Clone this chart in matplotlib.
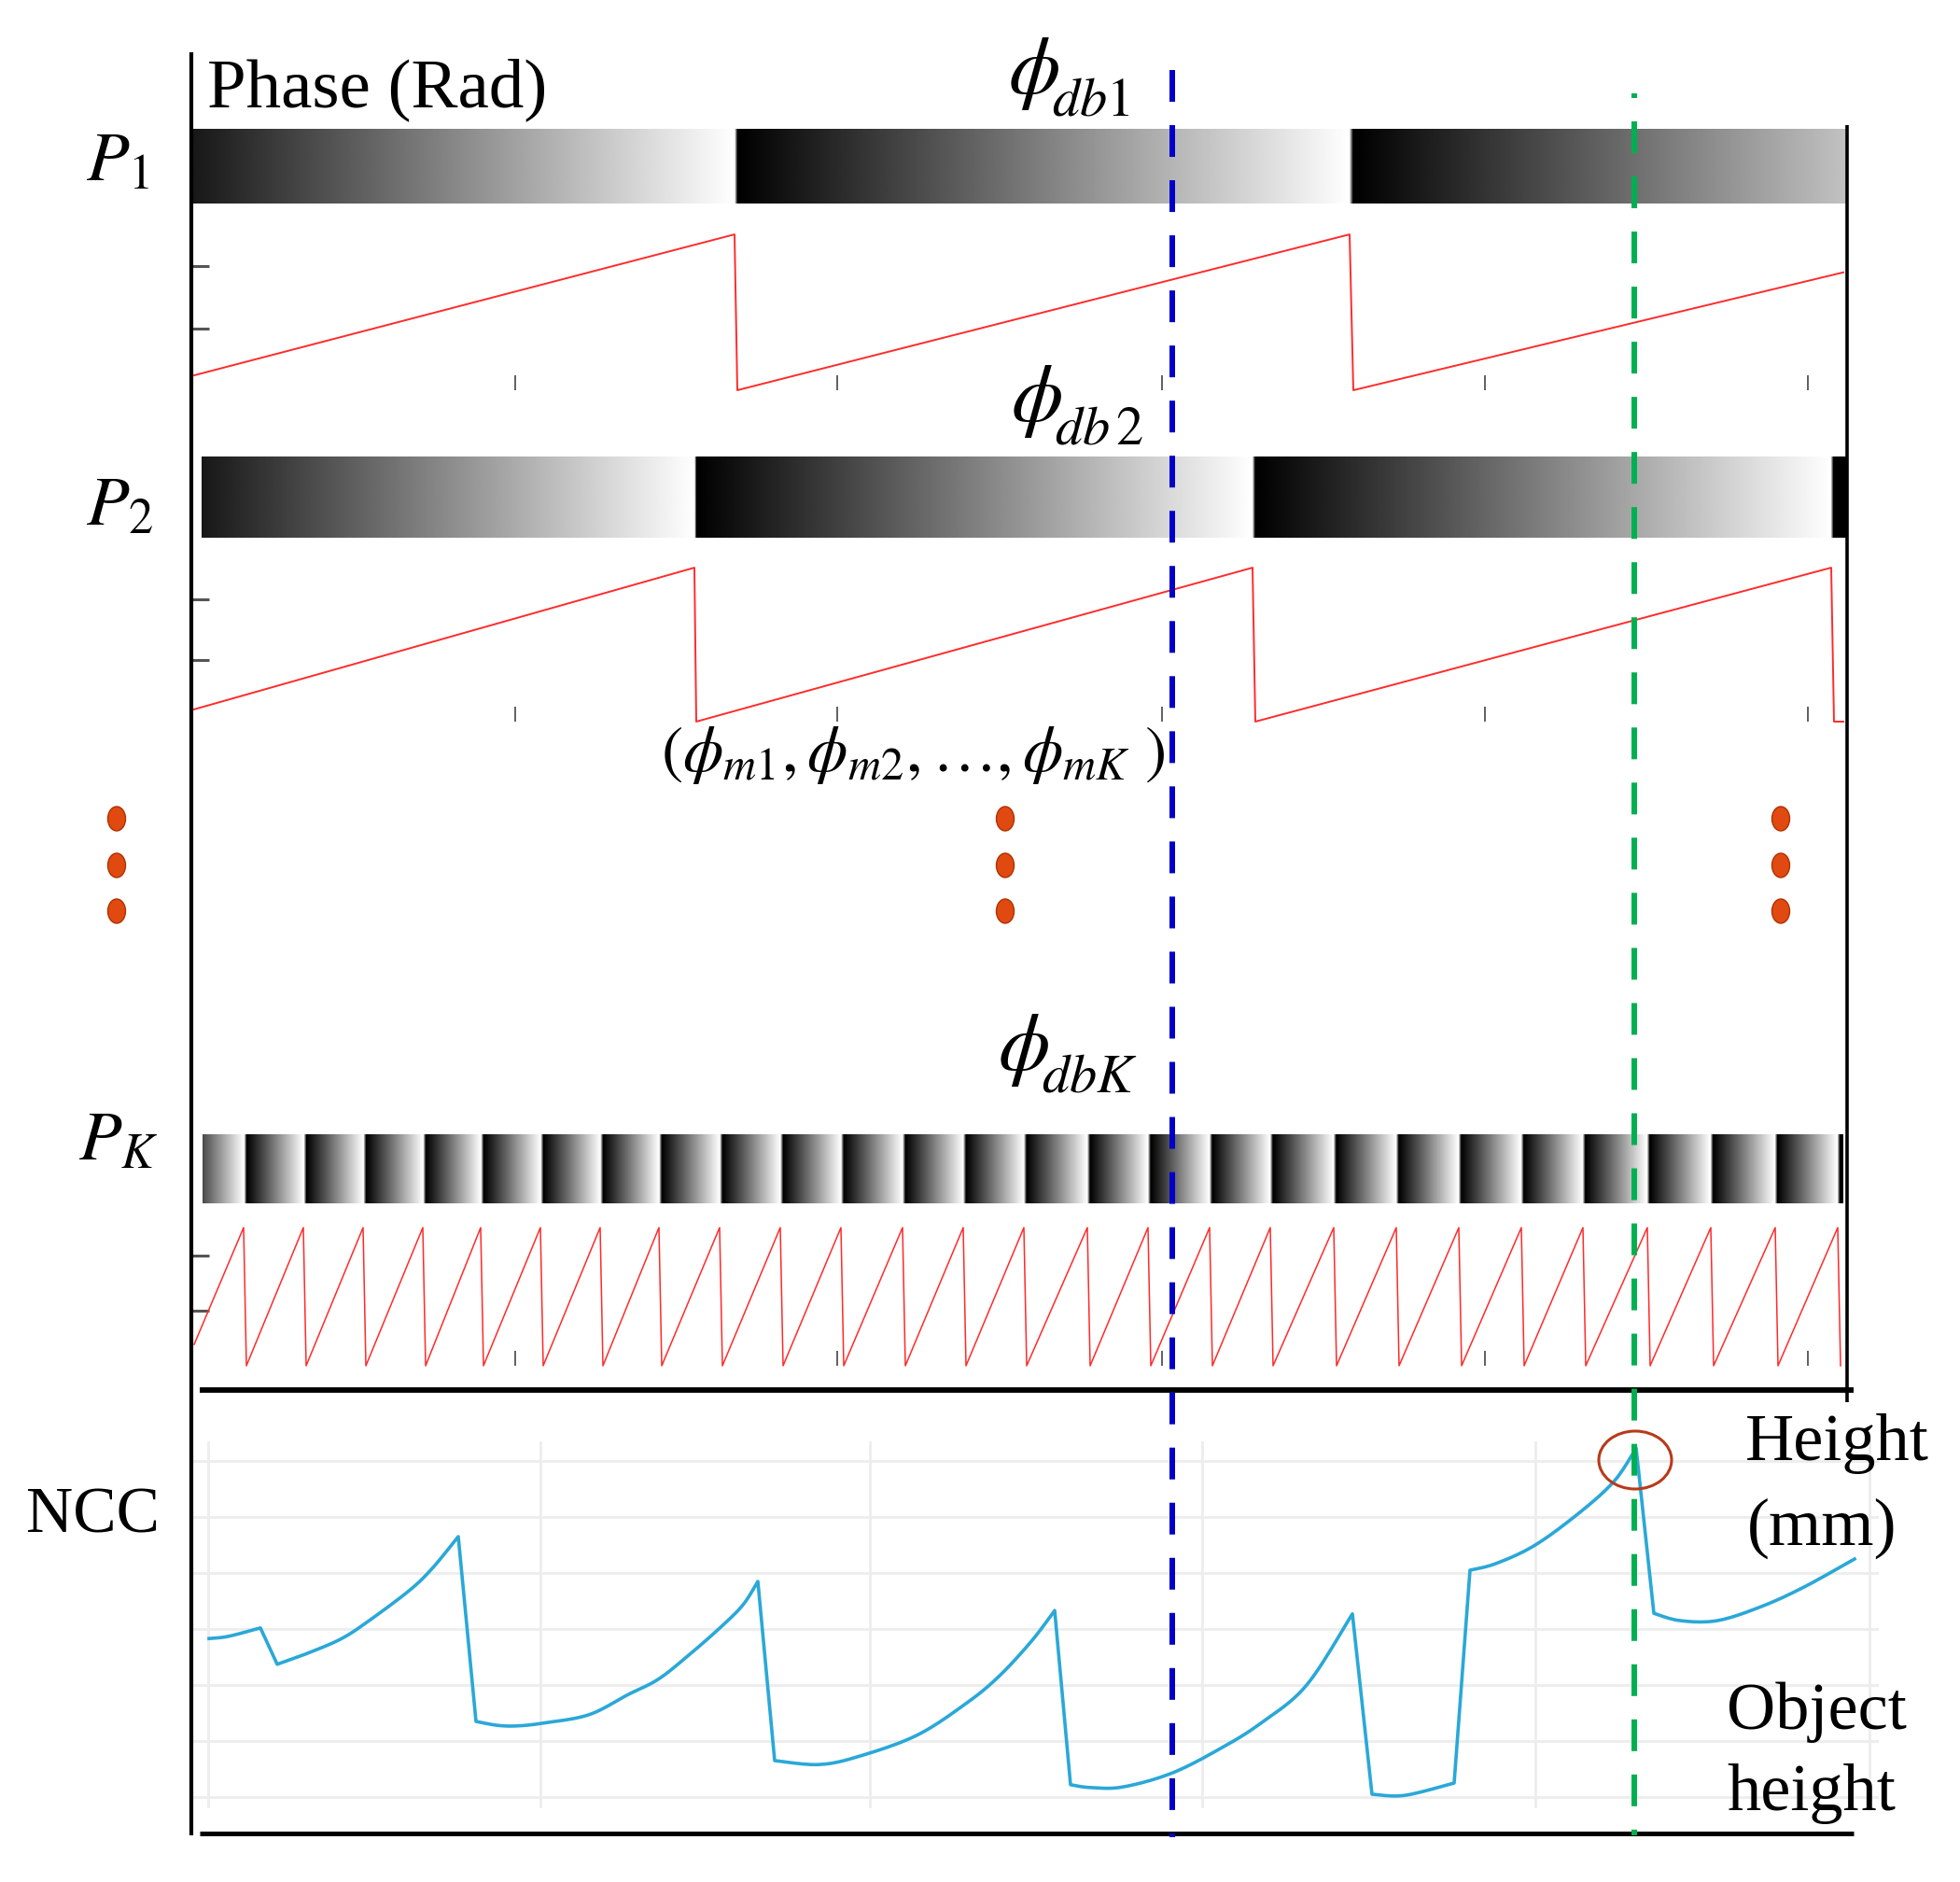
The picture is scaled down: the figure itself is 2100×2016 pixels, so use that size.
import numpy as np
import matplotlib
matplotlib.use('Agg')
import matplotlib.pyplot as plt
from matplotlib.patches import Ellipse

plt.rcParams['font.family'] = 'serif'
plt.rcParams['font.serif'] = ['Liberation Serif', 'DejaVu Serif']
plt.rcParams['mathtext.fontset'] = 'stix'
plt.rcParams['lines.scale_dashes'] = False

W, H = 2100, 2016
TWO_PI = 2 * np.pi

# wrapped phase maps (x = pixel column, phase in rad)
p1_x = [208, 787, 790, 1446, 1450, 1975]
p1_phase = [0.60, 6.28, 0.0, 6.28, 0.0, 4.75]

p2_x = [208, 744, 746, 1342, 1345, 1962, 1965, 1975]
p2_phase = [0.50, 6.28, 0.0, 6.28, 0.0, 6.28, 0.0, 0.0]

pk_start = (208, 0.97)
pk_peaks = [261, 325, 389, 453, 515, 579, 643, 706, 771, 836, 901, 967, 1032, 1097,
            1165, 1230, 1296, 1361, 1429, 1496, 1563, 1630, 1696, 1765, 1833, 1902, 1969]
pk_drops = [264, 328, 392, 456, 518, 582, 646, 709, 774, 839, 904, 970, 1035, 1100,
            1168, 1233, 1299, 1364, 1432, 1499, 1566, 1633, 1699, 1768, 1836, 1905, 1972]

phase_ticks_x = [552, 897, 1245, 1591, 1937]
phase_ticks_y = [2.5, 5.0]

# NCC curve
ncc_x = [224, 245, 279, 297, 330, 365, 393, 438, 463, 491, 510, 533, 554, 582, 631,
         673, 705, 737, 772, 796, 812, 830, 877, 919, 982, 1035, 1070, 1105, 1130,
         1147, 1168, 1203, 1256, 1309, 1351, 1400, 1449, 1470, 1505, 1558, 1575,
         1603, 1645, 1694, 1730, 1753, 1772, 1800, 1840, 1887, 1933, 1987]
ncc_y = [0.283, 0.287, 0.302, 0.237, 0.257, 0.282, 0.312, 0.368, 0.408, 0.465, 0.135,
         0.128, 0.127, 0.132, 0.147, 0.183, 0.210, 0.252, 0.303, 0.343, 0.385, 0.065,
         0.058, 0.072, 0.110, 0.167, 0.215, 0.278, 0.333, 0.022, 0.017, 0.018, 0.043,
         0.088, 0.132, 0.200, 0.327, 0.005, 0.003, 0.025, 0.405, 0.417, 0.450, 0.510,
         0.565, 0.623, 0.328, 0.315, 0.315, 0.340, 0.375, 0.425]
ncc_breaks = [3, 10, 21, 29, 37, 40, 46]   # first index of each smooth piece
ncc_grid_x = [223, 579, 932, 1288, 1645, 2003]
ncc_grid_y = [0.0, 0.1, 0.2, 0.3, 0.4, 0.5, 0.6]

blue_x = 1256
green_x = 1751
peak_mark = (1752, 1564)

dot_cols = [125, 1077, 1908]
dot_rows = [877, 927, 976]

fig = plt.figure(figsize=(W / 100, H / 100), dpi=100)


def px_axes(x0, y0, x1, y1, z=1):
    return fig.add_axes([x0 / W, 1 - y1 / H, (x1 - x0) / W, (y1 - y0) / H], zorder=z)


def band(x0, y0, x1, y1, xs, ph):
    ax = px_axes(x0, y0, x1, y1)
    cols = np.arange(x0, x1 + 1)
    vals = np.interp(cols, xs, ph) / TWO_PI
    ax.imshow(vals[None, :], cmap='gray', vmin=0, vmax=1, aspect='auto',
              extent=(x0, x1, 0, 1), interpolation='bilinear')
    ax.axis('off')


def saw(y_top, y_bot, xs, ph, lw):
    ax = px_axes(205, y_top, 1979, y_bot, z=2)
    ax.plot(xs, ph, color='#ff2b2b', lw=lw, clip_on=False)
    ax.set_xlim(205, 1979)
    ax.set_ylim(0, TWO_PI)
    ax.set_xticks(phase_ticks_x)
    ax.set_yticks(phase_ticks_y)
    ax.tick_params(axis='x', direction='in', length=11.5, width=1.2, color='#444',
                   labelbottom=False)
    ax.tick_params(axis='y', direction='in', length=14, width=2.2, color='#555',
                   labelleft=False)
    for s in ax.spines.values():
        s.set_visible(False)
    ax.patch.set_alpha(0)


def catmull(xs, ys, n=12):
    pts = np.column_stack([xs, ys]).astype(float)
    if len(pts) < 3:
        return pts[:, 0], pts[:, 1]
    P = np.vstack([pts[0], pts, pts[-1]])
    t = np.linspace(0, 1, n, endpoint=False)[:, None]
    out = []
    for i in range(1, len(P) - 2):
        p0, p1, p2, p3 = P[i - 1], P[i], P[i + 1], P[i + 2]
        out.append(0.5 * (2 * p1 + (-p0 + p2) * t
                          + (2 * p0 - 5 * p1 + 4 * p2 - p3) * t ** 2
                          + (-p0 + 3 * p1 - 3 * p2 + p3) * t ** 3))
    out.append(pts[-1][None, :])
    out = np.vstack(out)
    return out[:, 0], out[:, 1]


pk_x = [pk_start[0]]
pk_phase = [pk_start[1]]
for p, d in zip(pk_peaks, pk_drops):
    pk_x += [p, d]
    pk_phase += [TWO_PI, 0.0]

band(207, 138, 1978, 218, p1_x, p1_phase)
band(216, 489, 1980, 576, p2_x, p2_phase)
band(217, 1215, 1975, 1289, pk_x, pk_phase)

saw(251, 418, p1_x, p1_phase, 1.4)
saw(608, 773, p2_x, p2_phase, 1.4)
saw(1315, 1463, pk_x, pk_phase, 1.1)

# NCC panel
ax = px_axes(205, 1544, 2013, 1937)
bounds = [0] + ncc_breaks + [len(ncc_x)]
sx, sy = [], []
for a, b in zip(bounds[:-1], bounds[1:]):
    cx, cy = catmull(ncc_x[a:b], ncc_y[a:b])
    sx += list(cx)
    sy += list(cy)
ax.plot(sx, sy, color='#2aa8d8', lw=2.6, clip_on=False)
ax.set_xlim(205, 2013)
ax.set_ylim(-0.02, 0.635)
ax.set_xticks(ncc_grid_x)
ax.set_yticks(ncc_grid_y)
ax.grid(True, color='#ededed', lw=2)
ax.tick_params(length=0, labelbottom=False, labelleft=False)
for s in ax.spines.values():
    s.set_visible(False)

# overlay: frame, markers, labels
ov = fig.add_axes([0, 0, 1, 1], zorder=10)
ov.set_xlim(0, W)
ov.set_ylim(H, 0)
ov.axis('off')
ov.patch.set_alpha(0)

ov.plot([205, 205], [56, 1966], color='black', lw=3, solid_capstyle='butt')
ov.plot([1979, 1979], [134, 1502], color='black', lw=2.6, solid_capstyle='butt')
ov.plot([214, 1986], [1489, 1489], color='black', lw=4.2, solid_capstyle='butt')
ov.plot([214, 1986], [1964, 1964], color='black', lw=3.6, solid_capstyle='butt')

ov.add_patch(Ellipse(peak_mark, 78, 62, fill=False, edgecolor='#b83a1a', lw=2.2))

ov.plot([blue_x, blue_x], [75, 1968], color='#0000c8', lw=4.3,
        linestyle=(0, (24.5, 18)), solid_capstyle='butt')
ov.plot([green_x, green_x], [100, 1966], color='#00b050', lw=4.3,
        linestyle=(20.9, (24.5, 18)))

for cx in dot_cols:
    for cy in dot_rows:
        ov.add_patch(Ellipse((cx, cy), 19, 26, facecolor='#e04a10',
                             edgecolor='#b03000', lw=1))

ov.text(222, 114, 'Phase (Rad)', fontsize=54, va='baseline', ha='left')
ov.text(92, 193, r'$P_1$', fontsize=54, va='baseline', ha='left')
ov.text(92, 562, r'$P_2$', fontsize=54, va='baseline', ha='left')
ov.text(84, 1242, r'$P_K$', fontsize=54, va='baseline', ha='left')
ov.text(28, 1641, 'NCC', fontsize=50, va='baseline', ha='left')

# phi labels: big phi with a large italic subscript
for x, base, sub in [(1080, 100, 'db1'), (1083, 451, r'db\,2'), (1069, 1146, 'dbK')]:
    ov.text(x, base, r'$\phi$', fontsize=64, va='baseline', ha='left')
    ov.text(x + 47, base + 24, '$' + sub + '$', fontsize=42, va='baseline', ha='left')

ov.text(708, 826, r'$(\phi_{m1},\phi_{m2},\ldots,\phi_{mK}\ )$', fontsize=50,
        va='baseline', ha='left')

ov.text(1870, 1564, 'Height', fontsize=52, va='baseline', ha='left')
ov.text(1872, 1655, '(mm)', fontsize=52, va='baseline', ha='left')
ov.text(1850, 1852, 'Object', fontsize=52, va='baseline', ha='left')
ov.text(1850, 1939, 'height', fontsize=52, va='baseline', ha='left')

fig.savefig('out.png', dpi=100)
